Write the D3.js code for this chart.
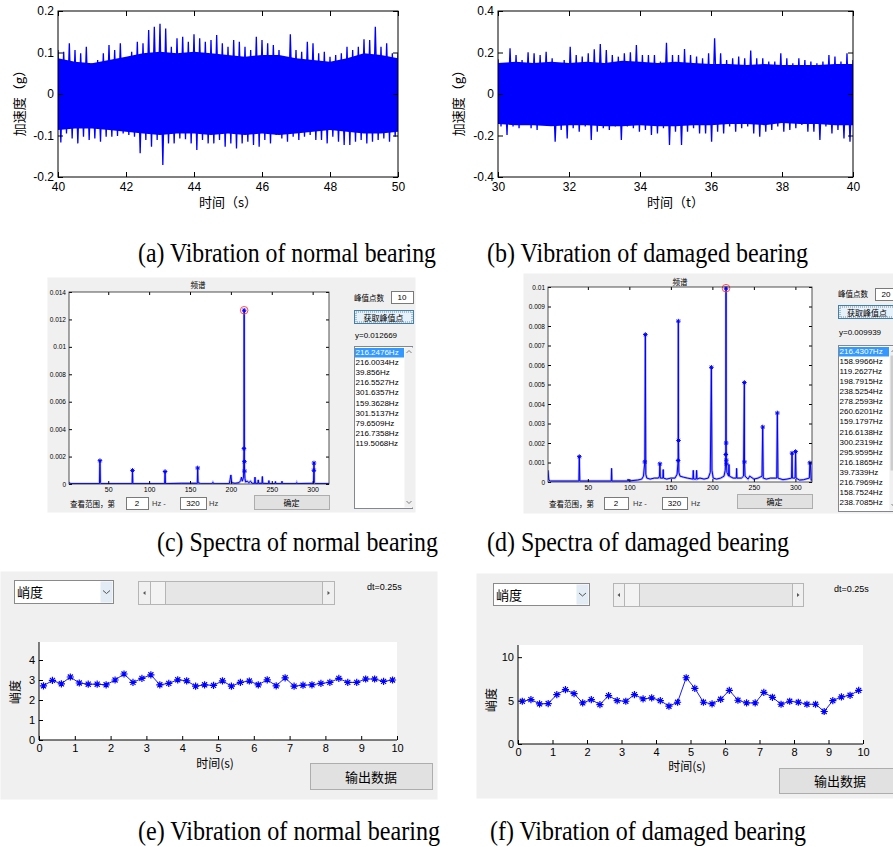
<!DOCTYPE html>
<html>
<head>
<meta charset="utf-8">
<script src="https://cdn.jsdelivr.net/npm/d3@7"></script>
<style>
  body { margin: 0; background: #fff; }
  svg text { font-family: "Liberation Sans", Arial, sans-serif; }
  svg .cjk { font-family: "Noto Sans CJK SC", "Liberation Sans", sans-serif; }
  svg .cap { font-family: "Liberation Serif", "Times New Roman", serif; }
</style>
</head>
<body>
<svg id="fig" width="893" height="847"></svg>
<script>
// ---- (a) normal bearing vibration, 40..50 s : spike envelope
var normalTop = [.106,.102,.122,.106,.098,.114,.074,.082,.098,.118,
  .106,.122,.078,.102,.126,.122,.154,.162,.169,.158,
  .114,.134,.138,.126,.144,.134,.126,.130,.142,.122,
  .114,.130,.126,.114,.106,.138,.130,.122,.118,.106,
  .086,.144,.106,.102,.126,.122,.098,.102,.090,.094,
  .098,.114,.106,.114,.132,.130,.162,.114,.122,.098,.098];
var normalBottom = [-.117,-.095,-.107,-.119,-.103,-.111,-.107,-.115,-.103,-.103,
  -.101,-.095,-.099,-.103,-.143,-.111,-.127,-.111,-.171,-.119,
  -.119,-.107,-.109,-.119,-.135,-.111,-.119,-.119,-.111,-.127,
  -.119,-.131,-.119,-.115,-.123,-.127,-.111,-.119,-.099,-.107,
  -.115,-.103,-.111,-.103,-.099,-.111,-.111,-.119,-.103,-.115,
  -.123,-.123,-.115,-.111,-.119,-.115,-.111,-.107,-.115,-.103,-.103];
// dense core of the signal, one value per half second
var normalCoreTop = [.086,.078,.074,.082,.090,.098,.102,.098,.102,.098,.094,
  .090,.094,.094,.086,.082,.078,.086,.098,.094,.086];
var normalCoreBottom = [-.087,-.083,-.083,-.087,-.091,-.095,-.099,-.095,-.095,-.099,-.095,
  -.099,-.095,-.099,-.095,-.091,-.087,-.091,-.095,-.095,-.091];

// ---- (b) damaged bearing vibration, 30..40 s
var damagedTop = [.167,.148,.220,.188,.164,.201,.196,.188,.204,.172,
  .132,.164,.228,.188,.180,.196,.215,.241,.212,.188,
  .180,.196,.201,.236,.188,.188,.188,.156,.247,.188,
  .188,.217,.188,.180,.172,.196,.268,.196,.164,.172,
  .180,.172,.209,.172,.172,.156,.156,.196,.172,.148,
  .172,.164,.156,.148,.156,.188,.180,.156,.196,.164];
var damagedBottom = [-.157,-.198,-.157,-.165,-.141,-.165,-.173,-.145,-.149,-.230,
  -.173,-.214,-.165,-.182,-.157,-.222,-.182,-.165,-.173,-.157,
  -.222,-.157,-.165,-.182,-.173,-.198,-.190,-.165,-.246,-.182,
  -.246,-.182,-.165,-.190,-.190,-.230,-.182,-.190,-.157,-.182,
  -.165,-.157,-.190,-.206,-.182,-.173,-.157,-.182,-.173,-.165,
  -.149,-.182,-.182,-.222,-.157,-.190,-.173,-.214,-.230,-.182];
var damagedCoreTop = [.150,.155,.150,.155,.150,.155,.150,.160,.155,.150,.155,
  .150,.145,.145,.140,.145,.140,.140,.140,.145,.145];
var damagedCoreBottom = [-.145,-.150,-.150,-.155,-.150,-.150,-.155,-.155,-.150,-.155,-.155,
  -.150,-.150,-.145,-.145,-.150,-.140,-.145,-.145,-.150,-.150];

var ticksTimeA = [40,42,44,46,48,50];
var ticksTimeB = [30,32,34,36,38,40];
var ticksAccA = [-0.2,-0.1,0,0.1,0.2];
var ticksAccB = [-0.4,-0.2,0,0.2,0.4];

// ---- (c) spectrum of normal bearing  [Hz, amplitude]
var specNormal = [[2,0.0001],[4,0.00003],[39.3,0.00003],[39.7,0.0013],[39.856,0.0017],[40.4,0.0001],[41,0.00003],
  [79.2,0.00003],[79.6509,0.00099],[80.1,0.00003],[119.0,0.00003],[119.5068,0.00091],[120,0.00003],
  [140,0.00005],[158.9,0.00005],[159.3628,0.00117],[159.9,0.0001],[161,0.00008],[163,0.00002],
  [177,0.00002],[178,0.00012],[179,0.00002],[198,0.00003],[199,0.0003],[200,0.00066],[201,0.0001],
  [205,0.00005],[210,0.0001],[212,0.00025],[213,0.0005],[214,0.0002],[215.5,0.0005],
  [216.0034,0.00258],[216.2476,0.012669],[216.5527,0.00163],[216.7358,0.00094],[217.2,0.0004],
  [218,0.00015],[220,0.0002],[222,0.0001],[224,0.0002],[226,0.00005],[229,0.00005],[229.5,0.0005],
  [230,0.00005],[233,0.00005],[233.5,0.0003],[234,0.00005],[238,0.00005],[238.5,0.00055],[239,0.00005],
  [246,0.00003],[246.5,0.00025],[247,0.00003],[254,0.00003],[254.5,0.00018],[255,0.00003],
  [262,0.00003],[262.5,0.0002],[263,0.00003],[280,0.00003],[280.5,0.0001],[281,0.00003],
  [301,0.00005],[301.5137,0.0010],[301.6357,0.00153],[302,0.0001],[303,0.00003],[320,0.00003]];
var peakFreqNormal = [216.2476,216.0034,39.856,216.5527,301.6357,159.3628,301.5137,79.6509,216.7358,119.5068];
var peakAmpNormal = [0.012669,0.00258,0.0017,0.00163,0.00153,0.00117,0.0010,0.00099,0.00094,0.00091];
var ticksSpecYNormal = [0,0.002,0.004,0.006,0.008,0.01,0.012,0.014];

// ---- (d) spectrum of damaged bearing
var specDamaged = [[2,0.0006],[3,0.0001],[5,0.00005],[39.2,0.00005],[39.7339,0.0013],[40.3,0.00005],
  [78.2,0.00005],[78.6,0.0007],[79,0.00005],[98,0.00005],[98.5,0.00015],[99,0.00005],[110,0.0001],
  [115,0.00015],[117,0.0003],[118.6,0.00103],[119.2627,0.00756],[119.8,0.0004],[121,0.0002],
  [125,0.00015],[130,0.0002],[135,0.0002],[136.3,0.0003],[136.8,0.00093],[137.3,0.0002],
  [140.4,0.0002],[140.8,0.00064],[141.2,0.0002],[145,0.00015],[150,0.0002],[155,0.0002],
  [157.5,0.0004],[158.7524,0.0011],[158.9966,0.00825],[159.1797,0.00213],[159.6,0.0005],
  [161,0.0003],[165,0.00025],[170,0.0002],[176.5,0.00015],[177,0.0006],[177.5,0.00015],
  [180.5,0.00015],[181,0.0006],[181.5,0.00015],[185,0.0002],[190,0.00015],[195,0.0002],
  [197.5,0.0005],[198.7915,0.00588],[199.5,0.0006],[201,0.0002],[205,0.00015],[210,0.0002],
  [214,0.0003],[215.5,0.0006],[216.1865,0.00141],[216.4307,0.009939],[216.6138,0.002],
  [216.7969,0.00112],[216.98,0.00093],[217.5,0.0005],[219.5,0.0003],[220,0.0009],[220.5,0.0003],
  [225,0.0002],[228.8,0.0002],[229.2,0.0007],[229.6,0.0002],[235,0.0002],[237.5,0.0003],
  [238.5254,0.0051],[238.7085,0.00103],[239.3,0.0003],[243,0.00015],[245,0.0003],[250,0.00015],
  [255,0.0002],[259.8,0.0003],[260.6201,0.00282],[261.3,0.0002],[265,0.00015],[270,0.0002],
  [277.5,0.0002],[278.2593,0.00354],[279,0.0002],[285,0.00012],[290,0.00015],[295.4,0.0002],
  [295.9595,0.00148],[296.4,0.0002],[299.6,0.0002],[300.2319,0.00156],[300.8,0.0002],
  [305,0.0001],[310,0.00012],[316.8,0.0002],[317.4,0.00098],[318,0.00098],[319,0.0001],[320,0.0001]];
var peakFreqDamaged = [216.4307,158.9966,119.2627,198.7915,238.5254,278.2593,260.6201,159.1797,
  216.6138,300.2319,295.9595,216.1865,39.7339,216.7969,158.7524,238.7085,118.6,317.4,136.8,216.98];
var peakAmpDamaged = [0.009939,0.00825,0.00756,0.00588,0.0051,0.00354,0.00282,0.00213,
  0.002,0.00156,0.00148,0.00141,0.0013,0.00112,0.0011,0.00103,0.00103,0.00098,0.00093,0.00093];
var ticksSpecYDamaged = [0,0.001,0.002,0.003,0.004,0.005,0.006,0.007,0.008,0.009,0.01];
var ticksSpecX = [50,100,150,200,250,300];

// ---- (e)/(f) kurtosis every 0.25 s
var dt = 0.25;
var kurtNormal = [2.71,2.98,2.81,3.15,2.85,2.79,2.79,2.76,3.00,3.30,
  2.88,3.08,3.26,2.76,2.83,3.01,2.96,2.69,2.76,2.73,
  2.96,2.69,2.88,2.95,2.76,3.01,2.71,3.11,2.69,2.74,
  2.76,2.83,2.88,3.08,2.88,2.88,3.05,3.05,2.93,3.00];
var kurtDamaged = [4.92,5.11,4.62,4.66,5.69,6.26,5.80,4.73,5.11,4.54,
  5.57,5.00,4.92,5.69,5.19,5.31,5.00,4.35,4.81,7.63,
  6.41,4.81,4.62,5.15,6.18,5.04,4.73,4.73,5.95,5.38,
  4.58,4.92,4.81,4.58,4.58,3.74,5.00,5.42,5.61,6.18];
var ticksKurtTime = [0,1,2,3,4,5,6,7,8,9,10];

var BLUE = "#0000ff";
var svg = d3.select("#fig");
svg.append("rect").attr("width", 893).attr("height", 847).attr("fill", "#fff");

function label(g, x, y, s, size, opt) {
  opt = opt || {};
  return g.append("text")
    .attr("x", x).attr("y", y)
    .attr("font-size", size)
    .attr("text-anchor", opt.anchor || "start")
    .attr("dominant-baseline", "central")
    .attr("fill", opt.fill || "#000")
    .attr("class", opt.cls || null)
    .text(s);
}
function box(g, x, y, w, h, fill, stroke) {
  return g.append("rect")
    .attr("x", x + 0.5).attr("y", y + 0.5)
    .attr("width", w).attr("height", h)
    .attr("fill", fill).attr("stroke", stroke || "none");
}
function starPath(r) {
  var k = r * 0.7;
  return "M" + (-r) + ",0H" + r + "M0," + (-r) + "V" + r +
    "M" + (-k) + "," + (-k) + "L" + k + "," + k + "M" + (-k) + "," + k + "L" + k + "," + (-k);
}
function styleAxis(sel, size) {
  sel.attr("font-size", size).attr("font-family", "Liberation Sans, Arial, sans-serif");
  sel.select(".domain").remove();
}

// ---------- vibration signals (a), (b)
function signalPanel(cfg) {
  var g = svg.append("g");
  var x = d3.scaleLinear().domain(cfg.tDomain).range([cfg.left, cfg.right]);
  var y = d3.scaleLinear().domain(cfg.yDomain).range([cfg.bottom, cfg.top]);
  g.append("clipPath").attr("id", cfg.id).append("rect")
    .attr("x", cfg.left).attr("y", cfg.top)
    .attr("width", cfg.right - cfg.left).attr("height", cfg.bottom - cfg.top);
  var plot = g.append("g").attr("clip-path", "url(#" + cfg.id + ")");
  var t0 = cfg.tDomain[0], t1 = cfg.tDomain[1];

  var nc = cfg.coreTop.length;
  var core = cfg.coreTop.map(function(v, i) { return [t0 + i * (t1 - t0) / (nc - 1), v, cfg.coreBottom[i]]; });
  plot.append("path").datum(core)
    .attr("d", d3.area().x(function(d) { return x(d[0]); })
      .y0(function(d) { return y(d[2]); }).y1(function(d) { return y(d[1]); }))
    .attr("fill", BLUE);

  var n = cfg.peaks.length, step = (t1 - t0) / (n - 1), pts = [];
  cfg.peaks.forEach(function(p, i) {
    pts.push([t0 + i * step, p]);
    pts.push([t0 + (i + 0.5) * step, cfg.troughs[i]]);
  });
  plot.append("path").datum(pts)
    .attr("d", d3.line().x(function(d) { return x(d[0]); }).y(function(d) { return y(d[1]); }))
    .attr("fill", "none").attr("stroke", BLUE).attr("stroke-width", 1.3);

  g.append("g").attr("transform", "translate(0," + cfg.bottom + ")")
    .call(d3.axisBottom(x).tickValues(cfg.xTicks).tickSizeInner(-5).tickSizeOuter(0).tickPadding(5).tickFormat(d3.format("d")))
    .call(styleAxis, 12);
  g.append("g").attr("transform", "translate(0," + cfg.top + ")")
    .call(d3.axisTop(x).tickValues(cfg.xTicks).tickSizeInner(-5).tickSizeOuter(0).tickFormat(""))
    .call(styleAxis, 12);
  g.append("g").attr("transform", "translate(" + cfg.left + ",0)")
    .call(d3.axisLeft(y).tickValues(cfg.yTicks).tickSizeInner(-5).tickSizeOuter(0).tickPadding(4).tickFormat(function(d) { return String(d); }))
    .call(styleAxis, 12);
  g.append("g").attr("transform", "translate(" + cfg.right + ",0)")
    .call(d3.axisRight(y).tickValues(cfg.yTicks).tickSizeInner(-5).tickSizeOuter(0).tickFormat(""))
    .call(styleAxis, 12);
  g.append("rect").attr("x", cfg.left).attr("y", cfg.top)
    .attr("width", cfg.right - cfg.left).attr("height", cfg.bottom - cfg.top)
    .attr("fill", "none").attr("stroke", "#000").attr("stroke-width", 1);

  label(g, (cfg.left + cfg.right) / 2, 201, cfg.xLabel, 13, { anchor: "middle", cls: "cjk" });
  label(g, 0, 0, cfg.yLabel, 13, { anchor: "middle", cls: "cjk" })
    .attr("transform", "translate(" + cfg.yLabelX + ",100) rotate(-90)");
}

signalPanel({ id: "clipA", left: 58, right: 398, top: 11, bottom: 177,
  tDomain: [40, 50], yDomain: [-0.2, 0.2], xTicks: ticksTimeA, yTicks: ticksAccA,
  peaks: normalTop, troughs: normalBottom, coreTop: normalCoreTop, coreBottom: normalCoreBottom,
  xLabel: "时间（s）", yLabel: "加速度（g）", yLabelX: 18 });
signalPanel({ id: "clipB", left: 498, right: 853, top: 11, bottom: 177,
  tDomain: [30, 40], yDomain: [-0.4, 0.4], xTicks: ticksTimeB, yTicks: ticksAccB,
  peaks: damagedTop, troughs: damagedBottom, coreTop: damagedCoreTop, coreBottom: damagedCoreBottom,
  xLabel: "时间（t）", yLabel: "加速度（g）", yLabelX: 457 });

// ---------- spectra GUI (c), (d)
function specPanel(cfg) {
  var g = svg.append("g");
  box(g, cfg.bg[0], cfg.bg[1], cfg.bg[2], cfg.bg[3], "#f0f0f0");
  var x = d3.scaleLinear().domain([2, 320]).range([cfg.left, cfg.right]);
  var y = d3.scaleLinear().domain(cfg.yDomain).range([cfg.bottom, cfg.top]);
  g.append("rect").attr("x", cfg.left).attr("y", cfg.top)
    .attr("width", cfg.right - cfg.left).attr("height", cfg.bottom - cfg.top).attr("fill", "#fff");
  g.append("clipPath").attr("id", cfg.id).append("rect")
    .attr("x", cfg.left).attr("y", cfg.top - 6)
    .attr("width", cfg.right - cfg.left).attr("height", cfg.bottom - cfg.top + 6);
  var plot = g.append("g").attr("clip-path", "url(#" + cfg.id + ")");
  var line = d3.line().x(function(d) { return x(d[0]); }).y(function(d) { return y(d[1]); });
  plot.append("path").datum(cfg.spec).attr("d", line)
    .attr("fill", "none").attr("stroke", "#6f6fff").attr("stroke-width", 2.4).attr("stroke-opacity", 0.55);
  plot.append("path").datum(cfg.spec).attr("d", line)
    .attr("fill", "none").attr("stroke", BLUE).attr("stroke-width", 1);
  plot.selectAll("path.pk").data(cfg.peakFreq).enter().append("path")
    .attr("class", "pk")
    .attr("transform", function(d, i) { return "translate(" + x(d) + "," + y(cfg.peakAmp[i]) + ")"; })
    .attr("d", starPath(2.3)).attr("fill", "none").attr("stroke", BLUE).attr("stroke-width", 1);
  plot.append("circle")
    .attr("cx", x(cfg.peakFreq[0])).attr("cy", y(cfg.peakAmp[0])).attr("r", 3.8)
    .attr("fill", "none").attr("stroke", "#ff3b3b").attr("stroke-width", 0.9);

  g.append("g").attr("transform", "translate(0," + cfg.bottom + ")")
    .call(d3.axisBottom(x).tickValues(ticksSpecX).tickSizeInner(-3).tickSizeOuter(0).tickPadding(3))
    .call(styleAxis, 7);
  g.append("g").attr("transform", "translate(0," + cfg.top + ")")
    .call(d3.axisTop(x).tickValues(ticksSpecX).tickSizeInner(-3).tickSizeOuter(0).tickFormat(""))
    .call(styleAxis, 7);
  g.append("g").attr("transform", "translate(" + cfg.left + ",0)")
    .call(d3.axisLeft(y).tickValues(cfg.yTicks).tickSizeInner(-3).tickSizeOuter(0).tickPadding(3).tickFormat(function(d) { return String(d); }))
    .call(styleAxis, 6.5);
  g.append("g").attr("transform", "translate(" + cfg.right + ",0)")
    .call(d3.axisRight(y).tickValues(cfg.yTicks).tickSizeInner(-3).tickSizeOuter(0).tickFormat(""))
    .call(styleAxis, 6.5);
  g.append("rect").attr("x", cfg.left).attr("y", cfg.top)
    .attr("width", cfg.right - cfg.left).attr("height", cfg.bottom - cfg.top)
    .attr("fill", "none").attr("stroke", "#262626").attr("stroke-width", 0.8);
  label(g, cfg.titleX, cfg.titleY, "频谱", 7.5, { anchor: "middle", cls: "cjk" });

  // right-hand controls
  var c = cfg.ctrl;
  label(g, c.x, c.labelY, "峰值点数", 7.5, { cls: "cjk" });
  box(g, c.countBox[0], c.countBox[1], c.countBox[2], c.countBox[3], "#fff", "#7a7a7a");
  label(g, c.countBox[0] + c.countBox[2] / 2, c.countBox[1] + c.countBox[3] / 2 + 0.5, c.count, 8, { anchor: "middle" });
  box(g, c.x, c.btnY, c.btnW, 13, "#e5f1fb", "#3c7fb1");
  box(g, c.x + 1.5, c.btnY + 1.5, c.btnW - 3, 10, "none", "#444").attr("stroke-dasharray", "1,1").attr("stroke-width", 0.6);
  label(g, c.x + c.btnW / 2, c.btnY + 7, "获取峰值点", 8, { anchor: "middle", cls: "cjk" });
  label(g, c.x + 1, c.yTextY, "y=" + cfg.peakAmp[0], 8);

  box(g, c.x, c.listY, c.listW, c.listH, "#fff", "#828790");
  box(g, c.x + 0.5, c.listY + 1.5, c.selW, 9.5, "#3399ff");
  var rows = Math.floor((c.listH - 2) / c.step);
  cfg.peakFreq.slice(0, rows).forEach(function(f, i) {
    label(g, c.x + 1.5, c.listY + 6.5 + i * c.step, String(f) + "Hz", 8, { fill: i === 0 ? "#fff" : "#000" });
  });
  var sx = c.x + c.selW + 1;
  box(g, sx, c.listY + 1, 9, c.listH - 2, "#f0f0f0");
  if (c.thumb) box(g, sx + 1, c.thumb[0], 7, c.thumb[1] - c.thumb[0], "#cdcdcd");
  g.append("path").attr("d", "M" + (sx + 2.5) + "," + (c.listY + 7) + "l2.5,-2.5l2.5,2.5")
    .attr("fill", "none").attr("stroke", "#606060").attr("stroke-width", 0.8);
  g.append("path").attr("d", "M" + (sx + 2.5) + "," + (c.listY + c.listH - 7) + "l2.5,2.5l2.5,-2.5")
    .attr("fill", "none").attr("stroke", "#606060").attr("stroke-width", 0.8);

  // bottom range controls
  var b = cfg.range;
  label(g, b.textX, b.y + 6, "查看范围，第", 7.5, { cls: "cjk" });
  box(g, b.box1[0], b.y, b.box1[1], 12, "#fff", "#7a7a7a");
  label(g, b.box1[0] + b.box1[1] / 2, b.y + 6.5, "2", 8, { anchor: "middle" });
  label(g, b.hz1X, b.y + 6, "Hz  -", 7.5, { fill: "#333" });
  box(g, b.box2[0], b.y, b.box2[1], 12, "#fff", "#7a7a7a");
  label(g, b.box2[0] + b.box2[1] / 2, b.y + 6.5, "320", 8, { anchor: "middle" });
  label(g, b.hz2X, b.y + 6, "Hz", 7.5, { fill: "#333" });
  box(g, b.btn[0], b.btn[1], b.btn[2], 14, "#e1e1e1", "#adadad");
  label(g, b.btn[0] + b.btn[2] / 2, b.btn[1] + 7, "确定", 8, { anchor: "middle", cls: "cjk" });
}

specPanel({ id: "clipC", bg: [47, 277, 368, 235], left: 69, right: 329, top: 292, bottom: 484,
  yDomain: [0, 0.014], yTicks: ticksSpecYNormal, spec: specNormal,
  peakFreq: peakFreqNormal, peakAmp: peakAmpNormal, titleX: 198, titleY: 284,
  ctrl: { x: 354, labelY: 297, countBox: [391, 291, 22, 12], count: "10", btnY: 310, btnW: 59,
    yTextY: 335, listY: 346, listW: 58, listH: 162, selW: 49, step: 10.1, thumb: null },
  range: { y: 497, textX: 70, box1: [126, 22], hz1X: 152, box2: [180, 26], hz2X: 209, btn: [254, 495, 75] } });
specPanel({ id: "clipD", bg: [523, 273, 370, 240], left: 548, right: 812, top: 287, bottom: 482,
  yDomain: [0, 0.01], yTicks: ticksSpecYDamaged, spec: specDamaged,
  peakFreq: peakFreqDamaged, peakAmp: peakAmpDamaged, titleX: 680, titleY: 281,
  ctrl: { x: 838, labelY: 293, countBox: [875, 288, 22, 12], count: "20", btnY: 305, btnW: 58,
    yTextY: 332, listY: 345, listW: 60, listH: 166, selW: 50, step: 10.07, thumb: [355, 470] },
  range: { y: 497, textX: 549, box1: [604, 24], hz1X: 633, box2: [662, 25], hz2X: 691, btn: [737, 494, 75] } });

// ---------- kurtosis GUI (e), (f)
function kurtPanel(cfg) {
  var g = svg.append("g");
  box(g, cfg.bg[0], cfg.bg[1], cfg.bg[2], cfg.bg[3], "#f0f0f0");
  // dropdown
  var d = cfg.drop;
  box(g, d[0], d[1], d[2], d[3], "#fff", "#8a8a8a");
  box(g, d[0] + d[2] - 13, d[1] + 1, 12, d[3] - 2, "#e3ebf4");
  g.append("path").attr("d", "M" + (d[0] + d[2] - 10) + "," + (d[1] + d[3] / 2 - 1) + "l3.5,3l3.5,-3")
    .attr("fill", "none").attr("stroke", "#444").attr("stroke-width", 0.9);
  label(g, d[0] + 3, d[1] + d[3] / 2, "峭度", 13, { cls: "cjk" });
  // slider
  var s = cfg.slider;
  box(g, s[0], s[1], s[2], s[3], "#e6e6e6", "#b5b5b5");
  box(g, s[0], s[1], s[4], s[3], "#f0f0f0", "#b5b5b5");
  box(g, s[0] + s[2] - s[4], s[1], s[4], s[3], "#f0f0f0", "#b5b5b5");
  box(g, s[0] + s[4], s[1], 15, s[3], "#f3f3f3", "#b5b5b5");
  var my = s[1] + s[3] / 2 + 0.5;
  g.append("path").attr("d", "M" + (s[0] + s[4] / 2 + 1.5) + "," + (my - 2) + "l-2.5,2l2.5,2z").attr("fill", "#555");
  g.append("path").attr("d", "M" + (s[0] + s[2] - s[4] / 2 - 0.5) + "," + (my - 2) + "l2.5,2l-2.5,2z").attr("fill", "#555");
  label(g, cfg.dtX, cfg.dtY, "dt=" + dt + "s", 9);

  var x = d3.scaleLinear().domain([0, 10]).range([cfg.left, cfg.right]);
  var y = d3.scaleLinear().domain(cfg.yDomain).range([cfg.bottom, cfg.top]);
  g.append("rect").attr("x", cfg.left).attr("y", cfg.top)
    .attr("width", cfg.right - cfg.left).attr("height", cfg.bottom - cfg.top).attr("fill", "#fff");
  var pts = cfg.values.map(function(v, i) { return [dt / 2 + i * dt, v]; });
  g.append("path").datum(pts)
    .attr("d", d3.line().x(function(p) { return x(p[0]); }).y(function(p) { return y(p[1]); }))
    .attr("fill", "none").attr("stroke", BLUE).attr("stroke-width", 0.9);
  g.selectAll("path.mk").data(pts).enter().append("path")
    .attr("class", "mk")
    .attr("transform", function(p) { return "translate(" + x(p[0]) + "," + y(p[1]) + ")"; })
    .attr("d", starPath(3.6)).attr("fill", "none").attr("stroke", BLUE).attr("stroke-width", 1.2);

  g.append("g").attr("transform", "translate(0," + cfg.bottom + ")")
    .call(d3.axisBottom(x).tickValues(ticksKurtTime).tickSizeInner(-4).tickSizeOuter(0).tickPadding(4).tickFormat(d3.format("d")))
    .call(styleAxis, 11);
  g.append("g").attr("transform", "translate(" + cfg.left + ",0)")
    .call(d3.axisLeft(y).tickValues(cfg.yTicks).tickSizeInner(-4).tickSizeOuter(0).tickPadding(4).tickFormat(d3.format("d")))
    .call(styleAxis, 11);
  g.append("path").attr("d", "M" + cfg.left + "," + cfg.top + "V" + cfg.bottom + "H" + cfg.right)
    .attr("fill", "none").attr("stroke", "#000").attr("stroke-width", 1);

  label(g, cfg.xLabelX, cfg.xLabelY, "时间(s)", 12, { anchor: "middle", cls: "cjk" });
  label(g, 0, 0, "峭度", 12, { anchor: "middle", cls: "cjk" })
    .attr("transform", "translate(" + cfg.yLabelX + "," + cfg.yLabelY + ") rotate(-90)");
  var b = cfg.btn;
  box(g, b[0], b[1], b[2], b[3], "#e1e1e1", "#adadad");
  label(g, b[0] + 61, b[1] + b[3] / 2, "输出数据", 13, { anchor: "middle", cls: "cjk" });
}

kurtPanel({ bg: [0, 571, 437, 228], drop: [14, 580, 99, 23], slider: [138, 581, 196, 23, 12],
  dtX: 367, dtY: 587, left: 39, right: 397, top: 642, bottom: 740,
  yDomain: [0, 4.9], yTicks: [0, 1, 2, 3, 4], values: kurtNormal,
  xLabelX: 215, xLabelY: 762, yLabelX: 14, yLabelY: 692, btn: [310, 763, 122, 26] });
kurtPanel({ bg: [476, 573, 417, 225], drop: [493, 583, 96, 22], slider: [613, 583, 190, 23, 11],
  dtX: 834, dtY: 589, left: 518, right: 863, top: 645, bottom: 744,
  yDomain: [0, 11.4], yTicks: [0, 5, 10], values: kurtDamaged,
  xLabelX: 687, xLabelY: 765, yLabelX: 490, yLabelY: 700, btn: [779, 768, 120, 25] });

// ---------- captions
var captions = [
  ["(a) Vibration of normal bearing", 138, 262, 298],
  ["(b) Vibration of damaged bearing", 487, 262, 321],
  ["(c) Spectra of normal bearing", 157, 551, 281],
  ["(d) Spectra of damaged bearing", 487, 551, 302],
  ["(e) Vibration of normal bearing", 138, 840, 302],
  ["(f) Vibration of damaged bearing", 490, 840, 316]
];
svg.selectAll("text.capt").data(captions).enter().append("text")
  .attr("class", "cap capt")
  .attr("x", function(d) { return d[1]; }).attr("y", function(d) { return d[2]; })
  .attr("textLength", function(d) { return d[3]; })
  .attr("lengthAdjust", "spacingAndGlyphs")
  .attr("font-size", 28).attr("fill", "#000")
  .text(function(d) { return d[0]; });
</script>
</body>
</html>
